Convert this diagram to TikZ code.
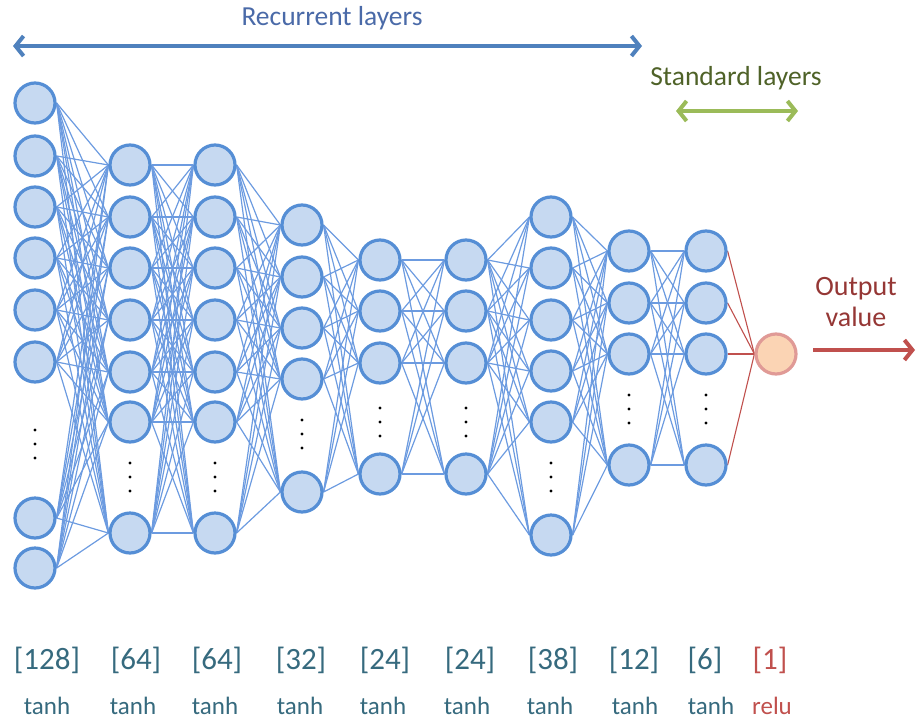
\documentclass[tikz,border=0pt]{standalone}
\usepackage{fontspec}
\setmainfont{Carlito}
\usetikzlibrary{arrows.meta}
\pgfdeclarelayer{background}
\pgfsetlayers{background,main}
\definecolor{NeuronFill}{HTML}{C6D9F1}
\definecolor{NeuronLine}{HTML}{558ED5}
\definecolor{SynapseBlue}{HTML}{6C9BE0}
\definecolor{RecBlue}{HTML}{4F81BD}
\definecolor{RecText}{HTML}{4A6AA8}
\definecolor{StdGreen}{HTML}{9BBB59}
\definecolor{StdText}{HTML}{4F6228}
\definecolor{OutRed}{HTML}{C0504D}
\definecolor{OutText}{HTML}{953735}
\definecolor{OutFill}{HTML}{FBD4B4}
\definecolor{OutLine}{HTML}{E09A96}
\definecolor{LabelTeal}{HTML}{366A7E}
\tikzset{
	neuron/.style={circle,draw=NeuronLine,fill=NeuronFill,line width=1.6pt,minimum size=20pt,inner sep=0pt},
	outneuron/.style={neuron,draw=OutLine,fill=OutFill},
	synapse/.style={draw=SynapseBlue,line width=0.6pt},
	outsynapse/.style={draw=OutRed,line width=0.55pt},
	vdot/.style={circle,fill=black,inner sep=0pt,minimum size=1.7pt},
	headtext/.style={font=\fontsize{13.75}{16}\selectfont},
	sizelabel/.style={font=\fontsize{15.5}{17}\selectfont,text=LabelTeal},
	actlabel/.style={font=\fontsize{12.5}{14}\selectfont,text=LabelTeal},
	bigarrow/.style={line width=2pt}
}
\begin{document}
\begin{tikzpicture}[x=0.5pt,y=-0.5pt,>={Straight Barb[length=4pt,width=10pt]}]
	\useasboundingbox (0,0) rectangle (921,718);

	% layers: index / x / neuron ys / centre of the dots
	\foreach \l/\x/\ys/\dy in {1/35/{103,156,207,258,310,362,518,568}/444,
			2/130/{165,217,268,320,372,422,533}/477,
			3/215/{165,217,268,320,372,422,533}/477,
			4/302/{225,277,328,379,492}/434,
			5/380/{260,311,363,474}/422,
			6/466/{260,311,363,474}/422,
			7/551/{217,268,320,371,422,535}/477,
			8/629/{251,303,354,465}/409,
			9/706/{251,303,354,465}/409}{
		\foreach \y [count=\i] in \ys
			\node[neuron] (L\l-\i) at (\x,\y) {};
		\foreach \d [count=\k] in {-14,0,14}
			\node[vdot] (Dots\l-\k) at (\x,\dy+\d) {};
	}
	\node[outneuron] (Out) at (776,354) {};

	% synapses
	\begin{pgfonlayer}{background}
		\foreach \a/\na/\b/\nb in {1/8/2/7,2/7/3/7,3/7/4/5,4/5/5/4,5/4/6/4,6/4/7/6,7/6/8/4,8/4/9/4}
			\foreach \i in {1,...,\na}
				\foreach \j in {1,...,\nb}
					\draw[synapse] (L\a-\i.east) -- (L\b-\j.west);
		\foreach \i in {1,...,4}
			\draw[outsynapse] (L9-\i.east) -- (Out.west);
	\end{pgfonlayer}

	% layer groups
	\node[headtext,text=RecText] (RecLabel) at (332,18) {Recurrent layers};
	\coordinate (RecLeft)  at (13,46);
	\coordinate (RecRight) at (642,46);
	\draw[bigarrow,RecBlue,<->] (RecLeft) -- (RecRight);

	\node[headtext,text=StdText] (StdLabel) at (736,78) {Standard layers};
	\coordinate (StdLeft)  at (676,111);
	\coordinate (StdRight) at (798,111);
	\draw[bigarrow,StdGreen,<->] (StdLeft) -- (StdRight);

	% output
	\node[headtext,text=OutText,align=center,font=\fontsize{14}{15.5}\selectfont] (OutLabel) at (856,302) {Output\\value};
	\coordinate (OutStart) at (813,350);
	\coordinate (OutEnd)   at (915,350);
	\draw[bigarrow,OutRed,->] (OutStart) -- (OutEnd);

	% sizes and activations
	\foreach \x/\n [count=\k] in {47/128,136/64,217/64,301/32,385/24,470/24,553/38,634/12,705/6}
		\node[sizelabel] (Size\k) at (\x,660) {[\n]};
	\node[sizelabel,text=OutRed] (Size10) at (770,660) {[1]};
	\foreach \x [count=\k] in {47,133,215,300,383,467,550,635,711}
		\node[actlabel] (Act\k) at (\x,706) {tanh};
	\node[actlabel,text=OutRed] (Act10) at (772,706) {relu};
\end{tikzpicture}
\end{document}
